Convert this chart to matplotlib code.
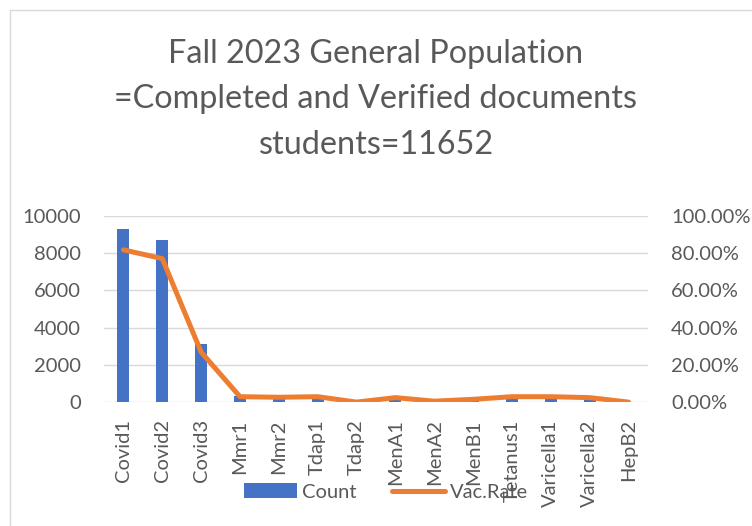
import matplotlib
matplotlib.use('Agg')
import matplotlib.pyplot as plt
from matplotlib.patches import Rectangle, Patch
from matplotlib.lines import Line2D
from matplotlib.ticker import FuncFormatter, MultipleLocator
import numpy as np

# chart data
vaccines = ['Covid1', 'Covid2', 'Covid3', 'Mmr1', 'Mmr2', 'Tdap1', 'Tdap2',
            'MenA1', 'MenA2', 'MenB1', 'Tetanus1', 'Varicella1', 'Varicella2', 'HepB2']
count = [9300, 8700, 3100, 350, 310, 340, 10, 280, 70, 180, 350, 350, 290, 10]
vac_rate = [0.817, 0.770, 0.269, 0.030, 0.027, 0.030, 0.001, 0.025, 0.006, 0.016,
            0.030, 0.030, 0.025, 0.001]
title_lines = ['Fall 2023 General Population',
               '=Completed and Verified documents',
               'students=11652']

BLUE = '#4472C4'
ORANGE = '#ED7D31'
GRID = '#D9D9D9'
TXT = '#595959'
W, H = 752, 526
PX = 72./100  # points per pixel

plt.rcParams['font.family'] = ['Lato', 'DejaVu Sans']

fig = plt.figure(figsize=(W/100., H/100.), dpi=100)
fig.patches.append(Rectangle((10./W, -0.1), 1.2, 1.1 - 10./H, transform=fig.transFigure,
                             fill=False, edgecolor=GRID, linewidth=1.0))

# title, one baseline per line
for line, yb in zip(title_lines, [62.7, 108.3, 154.0]):
  fig.text(0.5, 1 - yb/H, line, ha='center', va='baseline', fontsize=23.3, color=TXT)

ax = fig.add_axes([104./W, 1 - 402.3/H, (648. - 104.)/W, (402.3 - 215.7)/H])
x = np.arange(len(vaccines))
ax.bar(x, count, width=0.31, color=BLUE, zorder=2)
ax.set_xlim(-0.5, len(vaccines) - 0.5)
ax.set_ylim(0, 10000)
ax.yaxis.set_major_locator(MultipleLocator(2000))
ax.grid(axis='y', color=GRID, linewidth=1.0, zorder=0)
ax.set_axisbelow(True)
for s in ax.spines.values(): s.set_visible(False)
ax.set_xticks(x)
ax.set_xticklabels(vaccines, rotation=90, fontsize=14.5, color=TXT)
ax.tick_params(axis='x', length=0, pad=17*PX)
ax.tick_params(axis='y', length=0, pad=23*PX, labelsize=14.5, labelcolor=TXT)

ax2 = ax.twinx()
ax2.plot(x, vac_rate, color=ORANGE, linewidth=3.6, solid_capstyle='round', solid_joinstyle='round')
ax2.set_ylim(0, 1)
ax2.yaxis.set_major_locator(MultipleLocator(0.2))
ax2.yaxis.set_major_formatter(FuncFormatter(lambda v, p: '%.2f%%' % (v*100)))
for s in ax2.spines.values(): s.set_visible(False)
ax2.tick_params(axis='y', length=0, pad=23*PX, labelsize=14.5, labelcolor=TXT)

handles = [Patch(facecolor=BLUE, edgecolor='none'),
           Line2D([0], [0], color=ORANGE, linewidth=3.6, solid_capstyle='round')]
fig.legend(handles, ['Count', 'Vac.Rate'], loc='center', bbox_to_anchor=(386./W, 1 - 492./H),
           ncol=2, frameon=False, fontsize=14.5, labelcolor=TXT,
           handlelength=2.6, handleheight=0.7, handletextpad=0.25, columnspacing=1.8)

fig.savefig('out.png', dpi=100)
